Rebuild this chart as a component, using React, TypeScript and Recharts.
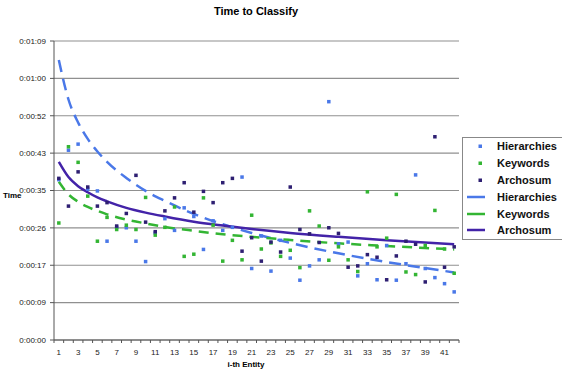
import React from "react";
import { ComposedChart, Scatter, Line, XAxis, YAxis, CartesianGrid } from "recharts";

// i-th entity (category axis)
const entities = [
  1, 2, 3, 4, 5, 6, 7, 8, 9, 10, 11, 12, 13, 14, 15, 16, 17, 18, 19, 20, 21,
  22, 23, 24, 25, 26, 27, 28, 29, 30, 31, 32, 33, 34, 35, 36, 37, 38, 39, 40, 41, 42,
];

// time to classify, in seconds
const hierarchies = [
  37.0, 43.8, 45.2, 34.8, 34.4, 22.8, 26.0, 25.9, 22.8, 18.1, 24.7, 28.0, 25.3, 30.5,
  28.5, 20.9, 27.5, 25.3, 26.0, 37.6, 16.5, 24.0, 15.9, 23.0, 18.9, 13.8, 17.1, 18.5,
  55.0, 22.2, 22.6, 14.8, 17.6, 13.9, 21.8, 13.8, 17.6, 38.1, 16.5, 14.4, 13.0, 11.1,
];
const keywords = [
  27.0, 44.6, 41.0, 33.2, 22.8, 28.3, 25.5, 26.5, 25.5, 32.9, 24.2, 26.0, 30.7, 19.3,
  19.8, 32.8, 26.5, 18.2, 23.0, 18.5, 28.8, 21.0, 22.4, 19.3, 20.7, 16.7, 29.8, 26.3,
  18.4, 21.5, 18.5, 15.8, 34.2, 21.5, 23.5, 33.6, 15.7, 15.1, 21.8, 29.9, 21.0, 15.4,
];
const archosum = [
  37.3, 30.9, 38.8, 35.3, 30.9, 31.7, 26.3, 29.2, 38.0, 27.2, 25.0, 29.8, 32.8, 36.3,
  29.5, 34.3, 31.7, 36.3, 37.3, 20.5, 23.6, 18.2, 22.6, 20.3, 35.3, 25.5, 24.5, 22.5,
  25.9, 24.6, 16.8, 17.1, 19.7, 19.1, 13.9, 19.4, 22.8, 22.1, 13.4, 46.9, 16.8, 21.5,
];

// trend lines at a few entities
const trendAt = [1, 2, 3, 4, 5, 6, 8, 10, 12, 15, 18, 21, 25, 30, 35, 42];
const hierarchiesTrend = [64.6, 55.5, 50.2, 46.4, 43.5, 41.1, 37.4, 34.4, 32.1, 29.1, 26.7, 24.7, 22.4, 20.0, 18.0, 15.6];
const keywordsTrend = [36.5, 33.6, 31.9, 30.7, 29.8, 29.0, 27.8, 26.9, 26.1, 25.2, 24.4, 23.8, 23.1, 22.3, 21.7, 20.9];
const archosumTrend = [41.1, 37.6, 35.5, 34.1, 32.9, 32.0, 30.5, 29.4, 28.5, 27.3, 26.4, 25.6, 24.7, 23.8, 23.0, 22.1];

const yTicks = [0, 8.625, 17.25, 25.875, 34.5, 43.125, 51.75, 60.375, 69];
const yTickLabels = ["0:00:00", "0:00:09", "0:00:17", "0:00:26", "0:00:35", "0:00:43", "0:00:52", "0:01:00", "0:01:09"];

const BLUE = "#4a78e8";
const GREEN = "#33b533";
const PURPLE_DOT = "#2e1f72";
const PURPLE = "#4323a8";
const FONT = "'Liberation Sans', Arial, sans-serif";

const data = entities.map((e, i) => {
  const t = trendAt.indexOf(e);
  return {
    entity: String(e),
    h: hierarchies[i],
    k: keywords[i],
    a: archosum[i],
    ht: t >= 0 ? hierarchiesTrend[t] : null,
    kt: t >= 0 ? keywordsTrend[t] : null,
    at: t >= 0 ? archosumTrend[t] : null,
  };
});

const dot = (color: string) => (props: any) => (
  <rect x={props.cx - 1.75} y={props.cy - 1.75} width={3.5} height={3.5} fill={color} />
);

const BAND = 405 / 42;

const XTick = (props: any) => {
  const { x, y, payload, index } = props;
  const isLast = index === entities.length - 1;
  return (
    <g>
      <line x1={x - BAND / 2} x2={x - BAND / 2} y1={y} y2={y + 3} stroke="#555" />
      {isLast && <line x1={x + BAND / 2} x2={x + BAND / 2} y1={y} y2={y + 3} stroke="#555" />}
      {index % 2 === 0 && (
        <text x={x} y={y + 15} textAnchor="middle" fontSize={8} fontFamily={FONT} fill="#222">
          {payload.value}
        </text>
      )}
    </g>
  );
};

const legendItems = [
  { name: "Hierarchies", color: BLUE, kind: "dot" },
  { name: "Keywords", color: GREEN, kind: "dot" },
  { name: "Archosum", color: PURPLE_DOT, kind: "dot" },
  { name: "Hierarchies", color: BLUE, kind: "line" },
  { name: "Keywords", color: GREEN, kind: "line" },
  { name: "Archosum", color: PURPLE, kind: "line" },
];

const LegendBox = () => (
  <div
    style={{
      position: "absolute",
      left: 462,
      top: 137,
      border: "1px solid #888",
      background: "#fff",
      width: 100,
      fontFamily: FONT,
      fontWeight: "bold",
      fontSize: 11,
      color: "#111",
    }}
  >
    {legendItems.map((it, i) => (
      <div key={i} style={{ display: "flex", alignItems: "center", height: 16.8 }}>
        <svg width={34} height={16} style={{ flex: "none" }}>
          {it.kind === "dot" ? (
            <rect x={15.5} y={6.5} width={3.5} height={3.5} fill={it.color} />
          ) : (
            <line x1={4} x2={22} y1={8} y2={8} stroke={it.color} strokeWidth={2.5} />
          )}
        </svg>
        <span>{it.name}</span>
      </div>
    ))}
  </div>
);

export default function App() {
  return (
    <div style={{ position: "absolute", left: 0, top: 0, width: 562, height: 374, background: "#fff" }}>
      <div
        style={{
          position: "absolute", left: 156, top: 5, width: 200, textAlign: "center",
          fontFamily: FONT, fontWeight: "bold", fontSize: 11,
        }}
      >
        Time to Classify
      </div>
      <div style={{ position: "absolute", left: 3, top: 191, fontFamily: FONT, fontWeight: "bold", fontSize: 8 }}>
        Time
      </div>
      <div
        style={{
          position: "absolute", left: 196, top: 360, width: 100, textAlign: "center",
          fontFamily: FONT, fontWeight: "bold", fontSize: 8,
        }}
      >
        i-th Entity
      </div>
      <ComposedChart width={562} height={374} data={data} margin={{ top: 41, right: 103, bottom: 0, left: 0 }}>
        <CartesianGrid vertical={false} stroke="#909090" strokeWidth={1.2} />
        <XAxis
          dataKey="entity"
          type="category"
          scale="band"
          interval={0}
          height={34}
          tickSize={0}
          tickMargin={0}
          tick={<XTick />}
          axisLine={{ stroke: "#555" }}
          tickLine={false}
        />
        <YAxis
          domain={[0, 69]}
          ticks={yTicks}
          width={54}
          tickSize={4}
          tickMargin={4}
          tickFormatter={(v: number, i: number) => yTickLabels[i]}
          tick={{ fontSize: 8, fontFamily: FONT, fill: "#222" }}
          axisLine={{ stroke: "#555" }}
          tickLine={{ stroke: "#555" }}
          allowDataOverflow
        />
        <YAxis yAxisId="r" orientation="right" width={0} tick={false} tickLine={false} axisLine={{ stroke: "#909090" }} />
        <Scatter dataKey="h" fill={BLUE} shape={dot(BLUE)} isAnimationActive={false} />
        <Scatter dataKey="k" fill={GREEN} shape={dot(GREEN)} isAnimationActive={false} />
        <Scatter dataKey="a" fill={PURPLE_DOT} shape={dot(PURPLE_DOT)} isAnimationActive={false} />
        <Line dataKey="ht" type="monotone" connectNulls dot={false} stroke={BLUE} strokeWidth={2.5} strokeDasharray="12 7" isAnimationActive={false} />
        <Line dataKey="kt" type="monotone" connectNulls dot={false} stroke={GREEN} strokeWidth={2.5} strokeDasharray="10 7" isAnimationActive={false} />
        <Line dataKey="at" type="monotone" connectNulls dot={false} stroke={PURPLE} strokeWidth={2.5} isAnimationActive={false} />
      </ComposedChart>
      <LegendBox />
    </div>
  );
}
